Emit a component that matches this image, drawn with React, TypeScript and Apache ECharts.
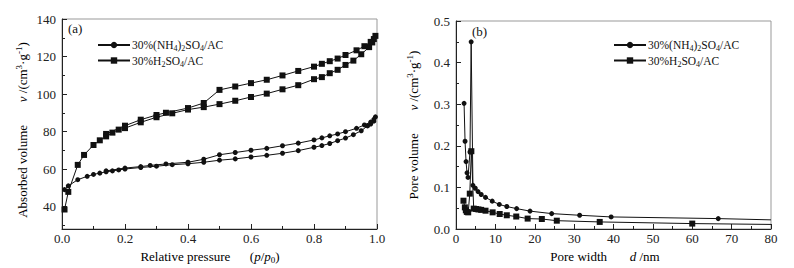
import React, { useEffect, useRef } from 'react';
import * as echarts from 'echarts';

const FONT = '"Liberation Serif", "Times New Roman", serif';
const INK = '#111';

const NH_NAME = '30%(NH4)2SO4/AC';
const H_NAME = '30%H2SO4/AC';

// (a) isotherms: adsorption branch then desorption branch
const nhAdsP = [0.008, 0.02, 0.05, 0.08, 0.10, 0.12, 0.14, 0.16, 0.18, 0.20, 0.25, 0.30, 0.35, 0.40, 0.45, 0.50, 0.55, 0.60, 0.65, 0.70, 0.75, 0.80, 0.825, 0.85, 0.875, 0.90, 0.925, 0.95, 0.97, 0.98, 0.99, 0.995];
const nhAdsV = [49, 51, 54.3, 56.1, 57.1, 57.8, 58.5, 59, 59.5, 60, 60.8, 61.5, 62.3, 62.8, 63.6, 64.7, 65.4, 66.4, 67.3, 68.4, 69.8, 71.6, 72.5, 73.6, 75.1, 76.5, 78.3, 80.4, 83, 84, 85.5, 87.8];
const nhDesP = [0.99, 0.98, 0.96, 0.935, 0.90, 0.875, 0.85, 0.825, 0.80, 0.75, 0.70, 0.65, 0.60, 0.55, 0.50, 0.45, 0.40, 0.33, 0.28, 0.25, 0.20, 0.14];
const nhDesV = [86.5, 85, 83.5, 81.7, 79.9, 78.7, 77.7, 76.6, 75.5, 73.8, 72.4, 71, 70, 68.8, 67.6, 65.2, 63.6, 62.7, 61.9, 61.3, 60.5, 59];

const hAdsP = [0.008, 0.02, 0.05, 0.07, 0.10, 0.12, 0.14, 0.16, 0.18, 0.20, 0.25, 0.30, 0.35, 0.40, 0.45, 0.50, 0.55, 0.60, 0.65, 0.70, 0.75, 0.80, 0.825, 0.85, 0.875, 0.90, 0.925, 0.95, 0.975, 0.985, 0.995];
const hAdsV = [38.4, 47.8, 62.2, 67.5, 72.8, 75.3, 77.4, 79.4, 81, 81.8, 84.9, 87.6, 89.7, 91.7, 93, 94.6, 96.4, 98.4, 100.2, 102.5, 104.7, 107.9, 109, 111.1, 112.9, 115.5, 117.8, 121.2, 125, 127.5, 131];
const hDesP = [0.99, 0.98, 0.96, 0.935, 0.90, 0.875, 0.85, 0.825, 0.80, 0.75, 0.70, 0.65, 0.60, 0.55, 0.50, 0.45, 0.40, 0.33, 0.30, 0.25, 0.20, 0.14];
const hDesV = [129.3, 127.8, 125.5, 123.3, 120.8, 118.9, 117.5, 116.1, 114.6, 112.3, 109.9, 107.6, 105.8, 104, 102.2, 95.2, 92.5, 90, 88.8, 86.3, 83.1, 78.7];

// (b) pore size distributions
const nhPoreD = [2.05, 2.3, 2.55, 2.8, 3.05, 3.55, 3.85, 4.3, 4.9, 5.6, 6.4, 7.5, 9.2, 11.0, 12.9, 15.4, 18.8, 24.3, 31.4, 39.4, 66.6];
const nhPoreV = [0.302, 0.211, 0.162, 0.135, 0.124, 0.185, 0.45, 0.105, 0.098, 0.09, 0.083, 0.076, 0.067, 0.059, 0.054, 0.049, 0.043, 0.037, 0.033, 0.029, 0.025];
const nhPoreEnd = [80, 0.022];
const hPoreD = [1.9, 2.25, 2.5, 2.75, 3.1, 3.5, 3.9, 4.5, 5.1, 5.7, 6.4, 7.5, 9.3, 11.1, 12.9, 15.3, 18.2, 21.8, 25.6, 36.5, 60.0];
const hPoreV = [0.068, 0.052, 0.045, 0.041, 0.040, 0.085, 0.187, 0.049, 0.048, 0.047, 0.046, 0.044, 0.040, 0.036, 0.033, 0.030, 0.025, 0.024, 0.020, 0.017, 0.013];
const hPoreEnd = [80, 0.011];

const leftYLabels = [40, 60, 80, 100, 120, 140];
const leftYMinor = [30, 50, 70, 90, 110, 130];

const zip = (a: number[], b: number[]) => a.map((x, i) => [x, b[i]]);

const rich: any = {
  t: { fontFamily: FONT, fontSize: 13, color: INK, lineHeight: 16 },
  i: { fontFamily: FONT, fontSize: 13, fontStyle: 'italic', color: INK, lineHeight: 16 },
  sub: { fontFamily: FONT, fontSize: 9, color: INK, verticalAlign: 'bottom', lineHeight: 10 },
  sup: { fontFamily: FONT, fontSize: 9, color: INK, verticalAlign: 'top', lineHeight: 10 },
};

const legendRich: any = {
  t: { fontFamily: FONT, fontSize: 11.5, color: INK, lineHeight: 15 },
  sub: { fontFamily: FONT, fontSize: 8, color: INK, verticalAlign: 'bottom', lineHeight: 10 },
};

const legendFmt = (name: string) =>
  name === NH_NAME
    ? '{t|30%(NH}{sub|4}{t|)}{sub|2}{t|SO}{sub|4}{t|/AC}'
    : '{t|30%H}{sub|2}{t|SO}{sub|4}{t|/AC}';

const axisLabelStyle = { fontFamily: FONT, fontSize: 13, color: '#222' };
const tickLine = { color: '#222', width: 1 };

export default function App() {
  const ref = useRef<HTMLDivElement>(null);
  useEffect(() => {
    const chart = echarts.init(ref.current!, null, { renderer: 'svg' });
    const lineSeries = (name: string, data: any[], symbol: string, size: number, xi: number) => ({
      type: 'line',
      name,
      xAxisIndex: xi,
      yAxisIndex: xi,
      data,
      symbol,
      symbolSize: size,
      showSymbol: true,
      lineStyle: { color: INK, width: 1 },
      itemStyle: { color: INK },
      emphasis: { disabled: true },
      clip: true,
    });
    const option: any = {
      animation: false,
      backgroundColor: '#fff',
      grid: [
        { left: 62, top: 19, width: 315, height: 210, show: true, borderColor: '#999', borderWidth: 1 },
        { left: 456, top: 21, width: 315, height: 208, show: true, borderColor: '#999', borderWidth: 1 },
      ],
      xAxis: [
        {
          type: 'value', gridIndex: 0, min: 0, max: 1, interval: 0.2,
          axisLine: { show: true, onZero: false, lineStyle: tickLine },
          axisTick: { show: true, inside: true, length: 5, lineStyle: tickLine },
          minorTick: { show: true, splitNumber: 2, length: 3, lineStyle: tickLine },
          splitLine: { show: false },
          axisLabel: { ...axisLabelStyle, margin: 3, formatter: (v: number) => v.toFixed(1) },
        },
        {
          type: 'value', gridIndex: 1, min: 0, max: 80, interval: 10,
          axisLine: { show: true, onZero: false, lineStyle: tickLine },
          axisTick: { show: true, inside: true, length: 5, lineStyle: tickLine },
          minorTick: { show: true, splitNumber: 2, length: 3, lineStyle: tickLine },
          splitLine: { show: false },
          axisLabel: { ...axisLabelStyle, margin: 3 },
        },
      ],
      yAxis: [
        {
          type: 'value', gridIndex: 0, min: 28, max: 140, position: 'left',
          axisLine: { show: true, onZero: false, lineStyle: tickLine },
          axisTick: { show: true, inside: true, length: 5, lineStyle: tickLine, customValues: leftYLabels },
          splitLine: { show: false },
          axisLabel: { ...axisLabelStyle, margin: 6, customValues: leftYLabels },
        },
        {
          type: 'value', gridIndex: 1, min: 0, max: 0.5, interval: 0.1, position: 'left',
          axisLine: { show: true, onZero: false, lineStyle: tickLine },
          axisTick: { show: true, inside: true, length: 5, lineStyle: tickLine },
          minorTick: { show: true, splitNumber: 2, length: 3, lineStyle: tickLine },
          splitLine: { show: false },
          axisLabel: { ...axisLabelStyle, margin: 6, formatter: (v: number) => v.toFixed(1) },
        },
        {
          type: 'value', gridIndex: 0, min: 28, max: 140, position: 'left', offset: 0,
          axisLine: { show: false },
          axisTick: { show: true, inside: true, length: 3, lineStyle: tickLine, customValues: leftYMinor },
          splitLine: { show: false },
          axisLabel: { show: false },
        },
      ],
      legend: [
        {
          data: [NH_NAME, H_NAME], orient: 'vertical', left: 92, top: 34,
          itemWidth: 32, itemHeight: 8, itemGap: 2, selectedMode: false,
          formatter: legendFmt, textStyle: { rich: legendRich, padding: [0, 0, 0, -3] },
        },
        {
          data: [NH_NAME, H_NAME], orient: 'vertical', left: 608, top: 34,
          itemWidth: 32, itemHeight: 8, itemGap: 2, selectedMode: false,
          formatter: legendFmt, textStyle: { rich: legendRich, padding: [0, 0, 0, -3] },
        },
      ],
      graphic: [
        { type: 'text', x: 68, y: 28, style: { text: '(a)', fontFamily: FONT, fontSize: 13, fill: INK, verticalAlign: 'middle' } },
        { type: 'text', x: 472, y: 31, style: { text: '(b)', fontFamily: FONT, fontSize: 13, fill: INK, verticalAlign: 'middle' } },
        {
          type: 'text', x: 210, y: 256,
          style: { text: '{t|Relative pressure}{t|      (}{i|p}{t|/}{i|p}{sub|0}{t|)}', rich, align: 'center', verticalAlign: 'middle' },
        },
        {
          type: 'text', x: 605, y: 256,
          style: { text: '{t|Pore width}{t|       }{i|d}{t| /nm}', rich, align: 'center', verticalAlign: 'middle' },
        },
        {
          type: 'text', x: 22, y: 130, rotation: Math.PI / 2,
          style: { text: '{t|Absorbed volume}{t|       }{i|v}{t| /(cm}{sup|3}{t|·g}{sup|-1}{t|)}', rich, align: 'center', verticalAlign: 'middle' },
        },
        {
          type: 'text', x: 413, y: 125, rotation: Math.PI / 2,
          style: { text: '{t|Pore volume}{t|       }{i|v}{t| /(cm}{sup|3}{t|·g}{sup|-1}{t|)}', rich, align: 'center', verticalAlign: 'middle' },
        },
      ],
      series: [
        lineSeries(NH_NAME, zip(nhAdsP, nhAdsV).concat(zip(nhDesP, nhDesV)), 'circle', 5, 0),
        lineSeries(H_NAME, zip(hAdsP, hAdsV).concat(zip(hDesP, hDesV)), 'rect', 6, 0),
        lineSeries(NH_NAME, [...zip(nhPoreD, nhPoreV), { value: nhPoreEnd, symbol: 'none' }], 'circle', 5, 1),
        lineSeries(H_NAME, [...zip(hPoreD, hPoreV), { value: hPoreEnd, symbol: 'none' }], 'rect', 6, 1),
      ],
    };
    chart.setOption(option);
    return () => chart.dispose();
  }, []);
  return (
    <div
      ref={ref}
      style={{ position: 'fixed', left: 0, top: 0, width: 794, height: 268, background: '#fff' }}
    />
  );
}
